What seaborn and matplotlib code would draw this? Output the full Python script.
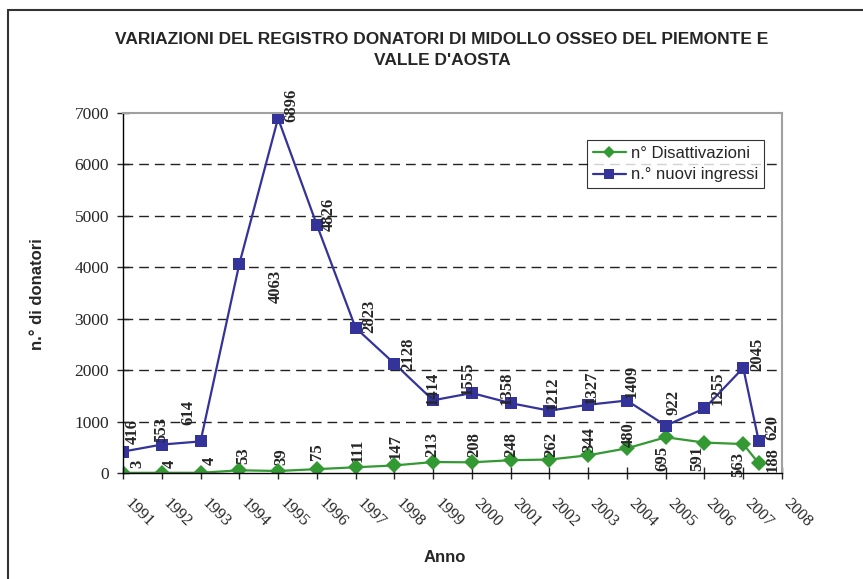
import matplotlib
matplotlib.use("Agg")
import matplotlib.pyplot as plt
import matplotlib.transforms as mtransforms
from matplotlib.lines import Line2D
import numpy as np
import pandas as pd
import seaborn as sns

# dati
anni = [1991, 1992, 1993, 1994, 1995, 1996, 1997, 1998, 1999, 2000,
        2001, 2002, 2003, 2004, 2005, 2006, 2007, 2007.4]
disattivazioni = [3, 4, 4, 53, 39, 75, 111, 147, 213, 208,
                  248, 262, 344, 480, 695, 591, 563, 188]
nuovi_ingressi = [416, 553, 614, 4063, 6896, 4826, 2823, 2128, 1414, 1555,
                  1358, 1212, 1327, 1409, 922, 1255, 2045, 620]
tick_anni = list(range(1991, 2009))

serie_dis = "n° Disattivazioni"
serie_nuovi = "n.° nuovi ingressi"

# spostamento etichette (pixel) rispetto al punto
off_dis = [(14, 5), (8, 5), (9, 8), (4, 6), (3, 6), (0, 9), (2, 5), (1, 6), (-1, 5),
           (2, 5), (1, 3), (2, 3), (1, 3), (2, 1), (-3, -34), (-7, -28), (-5, -33), (14, -9)]
off_nuovi = [(10, 8), (-1, 3), (-12, 16), (36, -39), (13, -4), (12, -6), (14, -5), (14, -7),
             (0, -5), (-4, -2), (-4, -2), (3, 1), (3, 1), (5, 3), (8, 11), (13, 3), (14, -3), (14, 1)]

df = pd.concat([
    pd.DataFrame({"anno": anni, "valore": disattivazioni, "serie": serie_dis}),
    pd.DataFrame({"anno": anni, "valore": nuovi_ingressi, "serie": serie_nuovi}),
])

sns.set_style("ticks")
serif = ["Liberation Serif", "DejaVu Serif"]
sans = ["Liberation Sans", "DejaVu Sans"]
plt.rcParams["font.family"] = serif

verde = "#339933"
blu = "#333399"

fig = plt.figure(figsize=(8.63, 5.79), dpi=100)
ax = fig.add_axes([123 / 863, 1 - 473 / 579, 659 / 863, 360 / 579])

sns.lineplot(data=df, x="anno", y="valore", hue="serie", style="serie",
             palette={serie_dis: verde, serie_nuovi: blu},
             markers={serie_dis: "D", serie_nuovi: "s"}, dashes=False,
             markersize=8, markeredgewidth=0, linewidth=1.6, ax=ax,
             hue_order=[serie_dis, serie_nuovi], style_order=[serie_dis, serie_nuovi])

ax.set_xlim(1991, 2008)
ax.set_ylim(0, 7000)
ax.set_yticks(range(0, 7001, 1000))
ax.set_yticklabels([str(v) for v in range(0, 7001, 1000)], family=serif, fontsize=12.5)
ax.set_xticks(tick_anni)
ax.set_xticklabels([str(a) for a in tick_anni], rotation=-45, ha="left", va="center",
                   rotation_mode="anchor", fontsize=12, family=serif)
ax.tick_params(axis="y", direction="inout", length=8, width=1, pad=6)
ax.tick_params(axis="x", direction="inout", length=8, width=1, pad=16)
sposta = mtransforms.ScaledTranslation(4 / 100, 0, fig.dpi_scale_trans)
for lab in ax.get_xticklabels():
    lab.set_transform(lab.get_transform() + sposta)

for v in range(1000, 7000, 1000):
    ax.axhline(v, color="#222222", lw=1, dashes=(7, 4.3), zorder=0)

for s in ["left", "bottom"]:
    ax.spines[s].set_color("black")
    ax.spines[s].set_linewidth(1)
for s in ["top", "right"]:
    ax.spines[s].set_color("#a0a0a0")
    ax.spines[s].set_linewidth(1.5)

# etichette dei valori
for x, y, (dx, dy) in zip(anni, disattivazioni, off_dis):
    ax.annotate(str(y), (x, y), xytext=(dx, dy), textcoords="offset pixels",
                rotation=90, ha="center", va="bottom", fontsize=12,
                fontweight="bold", family=serif, annotation_clip=False)
for x, y, (dx, dy) in zip(anni, nuovi_ingressi, off_nuovi):
    ax.annotate(str(y), (x, y), xytext=(dx, dy), textcoords="offset pixels",
                rotation=90, ha="center", va="bottom", fontsize=12,
                fontweight="bold", family=serif, annotation_clip=False)

ax.set_xlabel("")
ax.set_ylabel("")
fig.text(37 / 863, 1 - 294 / 579, "n.° di donatori", rotation=90, ha="center", va="center",
         fontsize=12, fontweight="bold", family=sans)
fig.text(445 / 863, 1 - 557 / 579, "Anno", ha="center", va="center",
         fontsize=12, fontweight="bold", family=sans)
fig.text(442 / 863, 1 - 50 / 579,
         "VARIAZIONI DEL REGISTRO DONATORI DI MIDOLLO OSSEO DEL PIEMONTE E\nVALLE D'AOSTA",
         ha="center", va="center", fontsize=12.5, fontweight="bold", family=sans,
         linespacing=1.45)

handles = [Line2D([], [], color=verde, marker="D", markersize=6.5, mew=0, lw=1.6),
           Line2D([], [], color=blu, marker="s", markersize=7, mew=0, lw=1.6)]
leg = ax.legend(handles, [serie_dis, serie_nuovi], loc="upper right",
                bbox_to_anchor=(0.973, 0.925), frameon=True, fancybox=False,
                prop={"family": sans, "size": 12}, handlelength=2.0,
                borderpad=0.35, labelspacing=0.4, handletextpad=0.3, borderaxespad=0)
leg.get_frame().set_edgecolor("black")
leg.get_frame().set_linewidth(0.8)

# cornice del grafico
fig.add_artist(Line2D([8 / 863, 8 / 863], [0, 1 - 10 / 579], color="#333333", lw=1.5))
fig.add_artist(Line2D([8 / 863, 1], [1 - 10 / 579, 1 - 10 / 579], color="#333333", lw=1.5))

fig.savefig("out.png", dpi=100)
